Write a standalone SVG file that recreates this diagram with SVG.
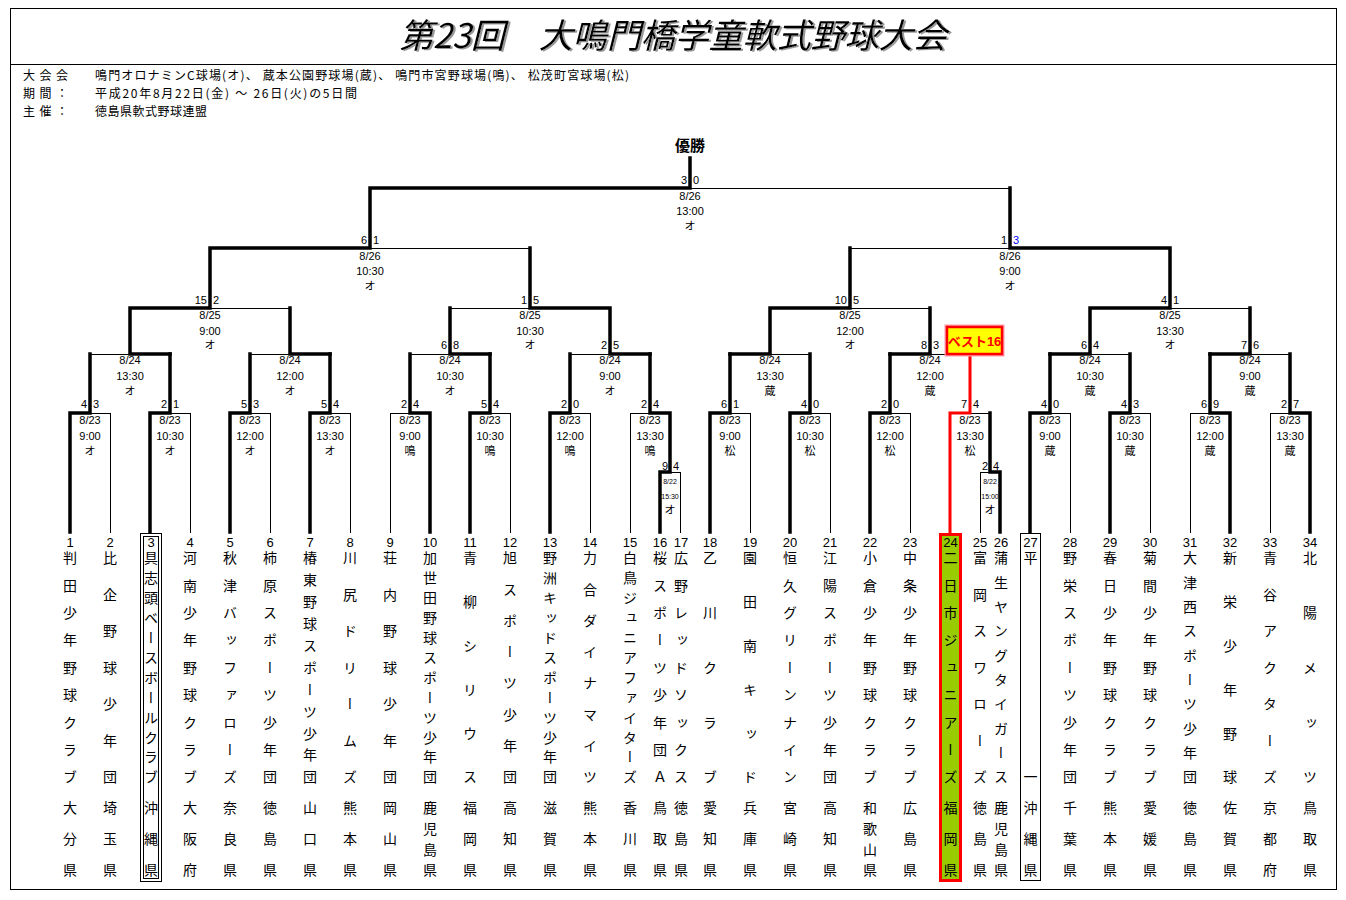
<svg xmlns="http://www.w3.org/2000/svg" width="1346" height="900" viewBox="0 0 1346 900">
<defs>
<style>
text{font-family:"Liberation Sans","Noto Sans CJK JP",sans-serif;fill:#000}
.ttl{font-family:"Noto Sans CJK JP",sans-serif;font-size:34px;font-style:italic;text-anchor:middle}
.hd{font-family:"Noto Sans CJK JP",sans-serif;font-size:12px}
.th{stroke:#000;stroke-width:1;fill:none}
.tk{stroke:#000;stroke-width:3.5;fill:none;stroke-linecap:square;stroke-linejoin:miter}
.rd{stroke:#f00;stroke-width:3;fill:none;stroke-linecap:square}
.lb{font-size:11px;text-anchor:middle}
.lj{font-family:"Noto Sans CJK JP",sans-serif;font-size:11px;text-anchor:middle}
.sl{font-size:11px;text-anchor:end}
.sr{font-size:11px;text-anchor:start}
.tiny{font-size:7px;text-anchor:middle}
.no{font-size:13px;text-anchor:middle}
.nm{font-family:"Noto Sans CJK JP",sans-serif;font-size:14px;writing-mode:vertical-rl;text-anchor:middle}
</style>
<filter id="sh" x="-5%" y="-20%" width="110%" height="140%"><feDropShadow dx="2" dy="1" stdDeviation="0.6" flood-color="#999"/></filter>
</defs>
<rect width="1346" height="900" fill="#fff"/>
<g id="frame" shape-rendering="crispEdges">
<rect x="10.5" y="8.5" width="1326" height="881" fill="none" stroke="#000"/>
<path d="M10 64.5H1337" stroke="#000"/>
</g>
<g id="title"><text class="ttl" x="673" y="48" filter="url(#sh)">第23回　大鳴門橋学童軟式野球大会</text></g>
<g id="header">
<text class="hd" x="23" y="79.5" textLength="45" lengthAdjust="spacing">大 会 会</text>
<text class="hd" x="95" y="79.5" textLength="534" lengthAdjust="spacing">鳴門オロナミンC球場(オ)、 蔵本公園野球場(蔵)、 鳴門市宮野球場(鳴)、 松茂町宮球場(松)</text>
<text class="hd" x="23" y="97.5" textLength="45" lengthAdjust="spacing">期 間 ：</text>
<text class="hd" x="95" y="97.5" textLength="262" lengthAdjust="spacing">平成20年8月22日(金) ～ 26日(火)の5日間</text>
<text class="hd" x="23" y="115.5" textLength="45" lengthAdjust="spacing">主 催 ：</text>
<text class="hd" x="95" y="115.5" textLength="112" lengthAdjust="spacing">徳島県軟式野球連盟</text>
</g>
<g id="connectors">
<path class="th" shape-rendering="crispEdges" d="M70 413.5H110 M150 413.5H190 M230 413.5H270 M310 413.5H350 M390 413.5H430 M470 413.5H510 M550 413.5H590 M630 413.5H670 M710 413.5H750 M790 413.5H830 M870 413.5H910 M950 413.5H990 M1030 413.5H1070 M1110 413.5H1150 M1190 413.5H1230 M1270 413.5H1310 M660 472.5H680 M980 472.5H1000 M110.5 413V533 M190.5 413V533 M270.5 413V533 M350.5 413V533 M390.5 413V533 M510.5 413V533 M590.5 413V533 M630.5 413V533 M680.5 472V533 M750.5 413V533 M830.5 413V533 M910.5 413V533 M980.5 472V533 M1070.5 413V533 M1150.5 413V533 M1190.5 413V533 M1270.5 413V533 M90 354.5H170 M250 354.5H330 M410 354.5H490 M570 354.5H650 M730 354.5H810 M890 354.5H970 M1050 354.5H1130 M1210 354.5H1290 M130 308.5H290 M450 308.5H610 M770 308.5H930 M1090 308.5H1250 M210 248.5H530 M850 248.5H1170 M370 188.5H1010"/>
<path class="tk" d="M70 532V413H90V354 M150 532V413H170V354 M230 532V413H250V354 M310 532V413H330V354 M430 532V413H410V354 M470 532V413H490V354 M550 532V413H570V354 M660 532V472H670V413H650V354 M710 532V413H730V354 M790 532V413H810V354 M870 532V413H890V354 M1000 532V472H990V413 M1030 532V413H1050V354 M1110 532V413H1130V354 M1230 532V413H1210V354 M1310 532V413H1290V354"/>
<path class="tk" d="M170 354H130V308 M330 354H290V308 M490 354H450V308 M650 354H610V308 M730 354H770V308 M890 354H930V308 M1050 354H1090V308 M1210 354H1250V308 M130 308H210V248 M610 308H530V248 M770 308H850V248 M1090 308H1170V248 M210 248H370V188 M1170 248H1010V188 M370 188H690V158"/>
<path class="rd" d="M950 533V413H970V354"/>
</g>
<g id="champion"><text x="690" y="151" font-family="Noto Sans CJK JP, sans-serif" font-size="15" font-weight="bold" text-anchor="middle">優勝</text></g>
<g id="final"><text class="sl" x="687" y="184">3</text><text class="sr" x="693" y="184">0</text><text class="lb" x="690" y="200">8/26</text><text class="lb" x="690" y="215">13:00</text><text class="lj" x="690" y="230">オ</text></g>
<g id="semi-1"><text class="sl" x="367" y="244">6</text><text class="sr" x="373" y="244">1</text><text class="lb" x="370" y="260">8/26</text><text class="lb" x="370" y="275">10:30</text><text class="lj" x="370" y="290">オ</text></g>
<g id="semi-2"><text class="sl" x="1007" y="244">1</text><text class="sr" x="1013" y="244" style="fill:#00f">3</text><text class="lb" x="1010" y="260">8/26</text><text class="lb" x="1010" y="275">9:00</text><text class="lj" x="1010" y="290">オ</text></g>
<g id="r3-1"><text class="sl" x="207" y="304">15</text><text class="sr" x="213" y="304">2</text><text class="lb" x="210" y="319">8/25</text><text class="lb" x="210" y="335">9:00</text><text class="lj" x="210" y="349">オ</text></g>
<g id="r3-2"><text class="sl" x="527" y="304">1</text><text class="sr" x="533" y="304">5</text><text class="lb" x="530" y="319">8/25</text><text class="lb" x="530" y="335">10:30</text><text class="lj" x="530" y="349">オ</text></g>
<g id="r3-3"><text class="sl" x="847" y="304">10</text><text class="sr" x="853" y="304">5</text><text class="lb" x="850" y="319">8/25</text><text class="lb" x="850" y="335">12:00</text><text class="lj" x="850" y="349">オ</text></g>
<g id="r3-4"><text class="sl" x="1167" y="304">4</text><text class="sr" x="1173" y="304">1</text><text class="lb" x="1170" y="319">8/25</text><text class="lb" x="1170" y="335">13:30</text><text class="lj" x="1170" y="349">オ</text></g>
<g id="r2-1"><text class="lb" x="130" y="364">8/24</text><text class="lb" x="130" y="380">13:30</text><text class="lj" x="130" y="395">オ</text></g>
<g id="r2-2"><text class="lb" x="290" y="364">8/24</text><text class="lb" x="290" y="380">12:00</text><text class="lj" x="290" y="395">オ</text></g>
<g id="r2-3"><text class="sl" x="447" y="349">6</text><text class="sr" x="453" y="349">8</text><text class="lb" x="450" y="364">8/24</text><text class="lb" x="450" y="380">10:30</text><text class="lj" x="450" y="395">オ</text></g>
<g id="r2-4"><text class="sl" x="607" y="349">2</text><text class="sr" x="613" y="349">5</text><text class="lb" x="610" y="364">8/24</text><text class="lb" x="610" y="380">9:00</text><text class="lj" x="610" y="395">オ</text></g>
<g id="r2-5"><text class="lb" x="770" y="364">8/24</text><text class="lb" x="770" y="380">13:30</text><text class="lj" x="770" y="395">蔵</text></g>
<g id="r2-6"><text class="sl" x="927" y="349">8</text><text class="sr" x="933" y="349">3</text><text class="lb" x="930" y="364">8/24</text><text class="lb" x="930" y="380">12:00</text><text class="lj" x="930" y="395">蔵</text></g>
<g id="r2-7"><text class="sl" x="1087" y="349">6</text><text class="sr" x="1093" y="349">4</text><text class="lb" x="1090" y="364">8/24</text><text class="lb" x="1090" y="380">10:30</text><text class="lj" x="1090" y="395">蔵</text></g>
<g id="r2-8"><text class="sl" x="1247" y="349">7</text><text class="sr" x="1253" y="349">6</text><text class="lb" x="1250" y="364">8/24</text><text class="lb" x="1250" y="380">9:00</text><text class="lj" x="1250" y="395">蔵</text></g>
<g id="r1-1"><text class="sl" x="87" y="408">4</text><text class="sr" x="93" y="408">3</text><text class="lb" x="90" y="424">8/23</text><text class="lb" x="90" y="440">9:00</text><text class="lj" x="90" y="455">オ</text></g>
<g id="r1-2"><text class="sl" x="167" y="408">2</text><text class="sr" x="173" y="408">1</text><text class="lb" x="170" y="424">8/23</text><text class="lb" x="170" y="440">10:30</text><text class="lj" x="170" y="455">オ</text></g>
<g id="r1-3"><text class="sl" x="247" y="408">5</text><text class="sr" x="253" y="408">3</text><text class="lb" x="250" y="424">8/23</text><text class="lb" x="250" y="440">12:00</text><text class="lj" x="250" y="455">オ</text></g>
<g id="r1-4"><text class="sl" x="327" y="408">5</text><text class="sr" x="333" y="408">4</text><text class="lb" x="330" y="424">8/23</text><text class="lb" x="330" y="440">13:30</text><text class="lj" x="330" y="455">オ</text></g>
<g id="r1-5"><text class="sl" x="407" y="408">2</text><text class="sr" x="413" y="408">4</text><text class="lb" x="410" y="424">8/23</text><text class="lb" x="410" y="440">9:00</text><text class="lj" x="410" y="455">鳴</text></g>
<g id="r1-6"><text class="sl" x="487" y="408">5</text><text class="sr" x="493" y="408">4</text><text class="lb" x="490" y="424">8/23</text><text class="lb" x="490" y="440">10:30</text><text class="lj" x="490" y="455">鳴</text></g>
<g id="r1-7"><text class="sl" x="567" y="408">2</text><text class="sr" x="573" y="408">0</text><text class="lb" x="570" y="424">8/23</text><text class="lb" x="570" y="440">12:00</text><text class="lj" x="570" y="455">鳴</text></g>
<g id="r1-8"><text class="sl" x="647" y="408">2</text><text class="sr" x="653" y="408">4</text><text class="lb" x="650" y="424">8/23</text><text class="lb" x="650" y="440">13:30</text><text class="lj" x="650" y="455">鳴</text></g>
<g id="pre-1"><text class="sl" x="668" y="470">9</text><text class="sr" x="673" y="470">4</text><text class="tiny" x="670" y="484">8/22</text><text class="tiny" x="670" y="499">15:30</text><text class="lj" x="670" y="514">オ</text></g>
<g id="r1-9"><text class="sl" x="727" y="408">6</text><text class="sr" x="733" y="408">1</text><text class="lb" x="730" y="424">8/23</text><text class="lb" x="730" y="440">9:00</text><text class="lj" x="730" y="455">松</text></g>
<g id="r1-10"><text class="sl" x="807" y="408">4</text><text class="sr" x="813" y="408">0</text><text class="lb" x="810" y="424">8/23</text><text class="lb" x="810" y="440">10:30</text><text class="lj" x="810" y="455">松</text></g>
<g id="r1-11"><text class="sl" x="887" y="408">2</text><text class="sr" x="893" y="408">0</text><text class="lb" x="890" y="424">8/23</text><text class="lb" x="890" y="440">12:00</text><text class="lj" x="890" y="455">松</text></g>
<g id="r1-12"><text class="sl" x="967" y="408">7</text><text class="sr" x="973" y="408">4</text><text class="lb" x="970" y="424">8/23</text><text class="lb" x="970" y="440">13:30</text><text class="lj" x="970" y="455">松</text></g>
<g id="pre-2"><text class="sl" x="988" y="470">2</text><text class="sr" x="993" y="470">4</text><text class="tiny" x="990" y="484">8/22</text><text class="tiny" x="990" y="499">15:00</text><text class="lj" x="990" y="514">オ</text></g>
<g id="r1-13"><text class="sl" x="1047" y="408">4</text><text class="sr" x="1053" y="408">0</text><text class="lb" x="1050" y="424">8/23</text><text class="lb" x="1050" y="440">9:00</text><text class="lj" x="1050" y="455">蔵</text></g>
<g id="r1-14"><text class="sl" x="1127" y="408">4</text><text class="sr" x="1133" y="408">3</text><text class="lb" x="1130" y="424">8/23</text><text class="lb" x="1130" y="440">10:30</text><text class="lj" x="1130" y="455">蔵</text></g>
<g id="r1-15"><text class="sl" x="1207" y="408">6</text><text class="sr" x="1213" y="408">9</text><text class="lb" x="1210" y="424">8/23</text><text class="lb" x="1210" y="440">12:00</text><text class="lj" x="1210" y="455">蔵</text></g>
<g id="r1-16"><text class="sl" x="1287" y="408">2</text><text class="sr" x="1293" y="408">7</text><text class="lb" x="1290" y="424">8/23</text><text class="lb" x="1290" y="440">13:30</text><text class="lj" x="1290" y="455">蔵</text></g>
<g id="best16">
<rect x="947" y="327" width="55" height="27" fill="#ff0" stroke="#f9a" stroke-width="5"/>
<rect x="947" y="327" width="55" height="27" fill="#ff0" stroke="#f00" stroke-width="2.5"/>
<text x="974.5" y="345.5" font-family="Noto Sans CJK JP, sans-serif" font-size="13" font-weight="bold" fill="#f00" style="fill:#f00" text-anchor="middle">ベスト16</text>
</g>
<g id="team-1"><text class="no" x="70" y="547">1</text><text class="nm" x="70" y="558 585.4 612.8 640.1 667.5 694.9 722.3 749.6 777">判田少年野球クラブ</text><text class="nm" x="70" y="808 839 870">大分県</text></g>
<g id="team-2"><text class="no" x="110" y="547">2</text><text class="nm" x="110" y="558 594.5 631 667.5 704 740.5 777">比企野球少年団</text><text class="nm" x="110" y="808 839 870">埼玉県</text></g>
<g id="team-3"><rect x="140.5" y="533.5" width="21" height="348" fill="none" stroke="#000" shape-rendering="crispEdges"/><rect x="143.5" y="536.5" width="15" height="342" fill="none" stroke="#000" shape-rendering="crispEdges"/><text class="no" x="151" y="547">3</text><text class="nm" x="151" y="558 577.9 597.8 617.7 637.6 657.5 677.5 697.4 717.3 737.2 757.1 777">具志頭ベースボールクラブ</text><text class="nm" x="151" y="808 839 870">沖縄県</text></g>
<g id="team-4"><text class="no" x="190" y="547">4</text><text class="nm" x="190" y="558 585.4 612.8 640.1 667.5 694.9 722.3 749.6 777">河南少年野球クラブ</text><text class="nm" x="190" y="808 839 870">大阪府</text></g>
<g id="team-5"><text class="no" x="230" y="547">5</text><text class="nm" x="230" y="558 585.4 612.8 640.1 667.5 694.9 722.3 749.6 777">秋津バッファローズ</text><text class="nm" x="230" y="808 839 870">奈良県</text></g>
<g id="team-6"><text class="no" x="270" y="547">6</text><text class="nm" x="270" y="558 585.4 612.8 640.1 667.5 694.9 722.3 749.6 777">柿原スポーツ少年団</text><text class="nm" x="270" y="808 839 870">徳島県</text></g>
<g id="team-7"><text class="no" x="310" y="547">7</text><text class="nm" x="310" y="558 579.9 601.8 623.7 645.6 667.5 689.4 711.3 733.2 755.1 777">椿東野球スポーツ少年団</text><text class="nm" x="310" y="808 839 870">山口県</text></g>
<g id="team-8"><text class="no" x="350" y="547">8</text><text class="nm" x="350" y="558 594.5 631 667.5 704 740.5 777">川尻ドリームズ</text><text class="nm" x="350" y="808 839 870">熊本県</text></g>
<g id="team-9"><text class="no" x="390" y="547">9</text><text class="nm" x="390" y="558 594.5 631 667.5 704 740.5 777">荘内野球少年団</text><text class="nm" x="390" y="808 839 870">岡山県</text></g>
<g id="team-10"><text class="no" x="430" y="547">10</text><text class="nm" x="430" y="558 577.9 597.8 617.7 637.6 657.5 677.5 697.4 717.3 737.2 757.1 777">加世田野球スポーツ少年団</text><text class="nm" x="430" y="808 828.7 849.3 870">鹿児島県</text></g>
<g id="team-11"><text class="no" x="470" y="547">11</text><text class="nm" x="470" y="558 601.8 645.6 689.4 733.2 777">青柳シリウス</text><text class="nm" x="470" y="808 839 870">福岡県</text></g>
<g id="team-12"><text class="no" x="510" y="547">12</text><text class="nm" x="510" y="558 589.3 620.6 651.9 683.1 714.4 745.7 777">旭スポーツ少年団</text><text class="nm" x="510" y="808 839 870">高知県</text></g>
<g id="team-13"><text class="no" x="550" y="547">13</text><text class="nm" x="550" y="558 577.9 597.8 617.7 637.6 657.5 677.5 697.4 717.3 737.2 757.1 777">野洲キッドスポーツ少年団</text><text class="nm" x="550" y="808 839 870">滋賀県</text></g>
<g id="team-14"><text class="no" x="590" y="547">14</text><text class="nm" x="590" y="558 589.3 620.6 651.9 683.1 714.4 745.7 777">力合ダイナマイツ</text><text class="nm" x="590" y="808 839 870">熊本県</text></g>
<g id="team-15"><text class="no" x="630" y="547">15</text><text class="nm" x="630" y="558 577.9 597.8 617.7 637.6 657.5 677.5 697.4 717.3 737.2 757.1 777">白鳥ジュニアファイターズ</text><text class="nm" x="630" y="808 839 870">香川県</text></g>
<g id="team-16"><text class="no" x="660" y="547">16</text><text class="nm" x="660" y="558 585.4 612.8 640.1 667.5 694.9 722.3 749.6 777">桜スポーツ少年団Ａ</text><text class="nm" x="660" y="808 839 870">鳥取県</text></g>
<g id="team-17"><text class="no" x="681" y="547">17</text><text class="nm" x="681" y="558 585.4 612.8 640.1 667.5 694.9 722.3 749.6 777">広野レッドソックス</text><text class="nm" x="681" y="808 839 870">徳島県</text></g>
<g id="team-18"><text class="no" x="710" y="547">18</text><text class="nm" x="710" y="558 612.8 667.5 722.3 777">乙川クラブ</text><text class="nm" x="710" y="808 839 870">愛知県</text></g>
<g id="team-19"><text class="no" x="750" y="547">19</text><text class="nm" x="750" y="558 601.8 645.6 689.4 733.2 777">園田南キッド</text><text class="nm" x="750" y="808 839 870">兵庫県</text></g>
<g id="team-20"><text class="no" x="790" y="547">20</text><text class="nm" x="790" y="558 585.4 612.8 640.1 667.5 694.9 722.3 749.6 777">恒久グリーンナイン</text><text class="nm" x="790" y="808 839 870">宮崎県</text></g>
<g id="team-21"><text class="no" x="830" y="547">21</text><text class="nm" x="830" y="558 585.4 612.8 640.1 667.5 694.9 722.3 749.6 777">江陽スポーツ少年団</text><text class="nm" x="830" y="808 839 870">高知県</text></g>
<g id="team-22"><text class="no" x="870" y="547">22</text><text class="nm" x="870" y="558 585.4 612.8 640.1 667.5 694.9 722.3 749.6 777">小倉少年野球クラブ</text><text class="nm" x="870" y="808 828.7 849.3 870">和歌山県</text></g>
<g id="team-23"><text class="no" x="910" y="547">23</text><text class="nm" x="910" y="558 585.4 612.8 640.1 667.5 694.9 722.3 749.6 777">中条少年野球クラブ</text><text class="nm" x="910" y="808 839 870">広島県</text></g>
<g id="team-24"><rect x="940.5" y="534.5" width="20" height="346" fill="#99cc00" stroke="#f00" stroke-width="3"/><text class="no" x="950.5" y="547">24</text><text class="nm" x="950.5" y="558 585.4 612.8 640.1 667.5 694.9 722.3 749.6 777">二日市ジュニアーズ</text><text class="nm" x="950.5" y="808 839 870">福岡県</text></g>
<g id="team-25"><text class="no" x="980" y="547">25</text><text class="nm" x="980" y="558 594.5 631 667.5 704 740.5 777">富岡スワローズ</text><text class="nm" x="980" y="808 839 870">徳島県</text></g>
<g id="team-26"><text class="no" x="1001" y="547">26</text><text class="nm" x="1001" y="558 582.3 606.7 631 655.3 679.7 704 728.3 752.7 777">蒲生ヤングタイガース</text><text class="nm" x="1001" y="808 828.7 849.3 870">鹿児島県</text></g>
<g id="team-27"><rect x="1020.5" y="533.5" width="20" height="347" fill="none" stroke="#000" shape-rendering="crispEdges"/><text class="no" x="1030.5" y="547">27</text><text class="nm" x="1030.5" y="558 777">平一</text><text class="nm" x="1030.5" y="808 839 870">沖縄県</text></g>
<g id="team-28"><text class="no" x="1070" y="547">28</text><text class="nm" x="1070" y="558 585.4 612.8 640.1 667.5 694.9 722.3 749.6 777">野栄スポーツ少年団</text><text class="nm" x="1070" y="808 839 870">千葉県</text></g>
<g id="team-29"><text class="no" x="1110" y="547">29</text><text class="nm" x="1110" y="558 585.4 612.8 640.1 667.5 694.9 722.3 749.6 777">春日少年野球クラブ</text><text class="nm" x="1110" y="808 839 870">熊本県</text></g>
<g id="team-30"><text class="no" x="1150" y="547">30</text><text class="nm" x="1150" y="558 585.4 612.8 640.1 667.5 694.9 722.3 749.6 777">菊間少年野球クラブ</text><text class="nm" x="1150" y="808 839 870">愛媛県</text></g>
<g id="team-31"><text class="no" x="1190" y="547">31</text><text class="nm" x="1190" y="558 582.3 606.7 631 655.3 679.7 704 728.3 752.7 777">大津西スポーツ少年団</text><text class="nm" x="1190" y="808 839 870">徳島県</text></g>
<g id="team-32"><text class="no" x="1230" y="547">32</text><text class="nm" x="1230" y="558 601.8 645.6 689.4 733.2 777">新栄少年野球</text><text class="nm" x="1230" y="808 839 870">佐賀県</text></g>
<g id="team-33"><text class="no" x="1270" y="547">33</text><text class="nm" x="1270" y="558 594.5 631 667.5 704 740.5 777">青谷アクターズ</text><text class="nm" x="1270" y="808 839 870">京都府</text></g>
<g id="team-34"><text class="no" x="1310" y="547">34</text><text class="nm" x="1310" y="558 612.8 667.5 722.3 777">北陽メッツ</text><text class="nm" x="1310" y="808 839 870">鳥取県</text></g>
</svg>
